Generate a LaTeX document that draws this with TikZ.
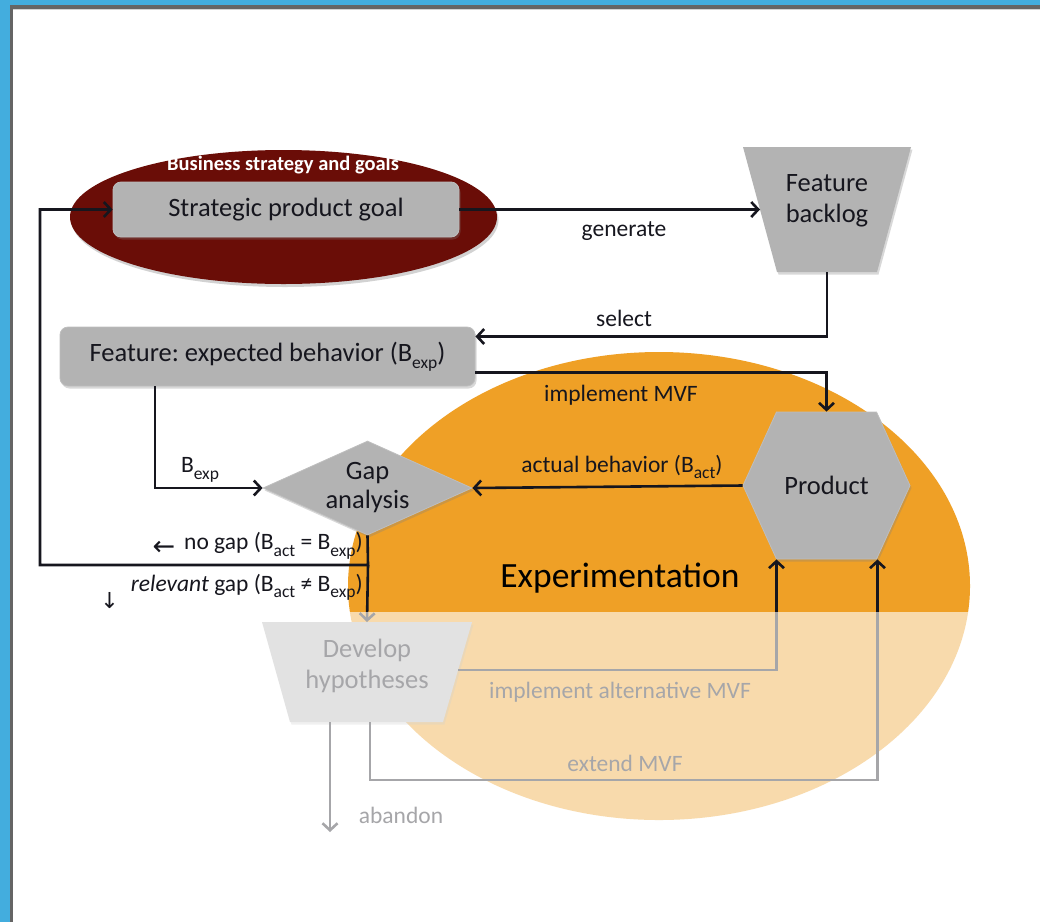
\documentclass[tikz,border=0pt]{standalone}
\usepackage{fontspec}
\setmainfont{Carlito}
\frenchspacing
\newfontfamily\arrowfont{DejaVu Sans}
\usetikzlibrary{shapes.geometric,shapes.symbols,arrows.meta,shadows}
\definecolor{frameblue}{HTML}{43ADDE}
\definecolor{framegray}{HTML}{656565}
\definecolor{boxgray}{HTML}{B3B3B3}
\definecolor{goalred}{HTML}{6A0D07}
\definecolor{exporange}{HTML}{EFA026}
\definecolor{inkblack}{HTML}{16161E}
\newcommand\boxfont{\fontsize{26.5}{31}\selectfont}
\newcommand\labelfont{\fontsize{23.5}{26}\selectfont}
\newcommand\sub[1]{\raisebox{-0.28em}{\fontsize{17.5}{18}\selectfont #1}}
\newcommand\smallarrow[2]{{\arrowfont\fontsize{#1}{#1}\selectfont #2}}

\begin{document}
\begin{tikzpicture}[x=1pt,y=-1pt,
  box/.style={fill=boxgray, draw=boxgray!85!white, line width=0.8pt, text=inkblack, font=\boxfont,
    inner sep=0pt, drop shadow={opacity=0.3, shadow xshift=1.5pt, shadow yshift=-2.5pt}},
  trapfill/.style={fill=boxgray, drop shadow={opacity=0.3, shadow xshift=1.5pt, shadow yshift=-2.5pt}},
  frame/.style={inner sep=0pt, outer sep=0pt},
  boxtext/.style={text=inkblack, font=\boxfont, align=center, inner sep=0pt},
  flow/.style={draw=inkblack, line width=2.6pt, -{Straight Barb[length=7pt,width=15pt]}},
  lbl/.style={text=inkblack, font=\labelfont, inner sep=0pt}]
\useasboundingbox (0,0) rectangle (1040,922);
\fill[white] (0,0) rectangle (1040,922);

\node[ellipse, fill=exporange, minimum width=622pt, minimum height=468pt] (exper) at (659,586) {};
\node[ellipse, fill=goalred, minimum width=427pt, minimum height=134pt,
  drop shadow={opacity=0.35, shadow xshift=1.5pt, shadow yshift=-3pt}] (business) at (283.5,217) {};
\node[text=white, font=\fontsize{20.5}{22}\selectfont\bfseries] (businesslbl) at (283,165) {Business strategy and goals};
\node[font=\fontsize{35.5}{38}\selectfont, text=black] (experlbl) at (620,578) {Experimentation};

\node[box, rounded corners=8pt, minimum width=346pt, minimum height=55pt] (goal) at (286,209.5) {Strategic product goal};

\node[frame, minimum width=168pt, minimum height=125pt] (backlog) at (827,209.5) {};
\fill[trapfill] (backlog.north west) -- (backlog.north east) -- ([xshift=-34pt]backlog.south east)
  -- ([xshift=34pt]backlog.south west) -- cycle;
\node[boxtext] (backlogtext) at ([yshift=9pt]backlog.center) {Feature\\backlog};

\node[box, rounded corners=8pt, minimum width=415pt, minimum height=59pt] (feature) at (267.5,356.5) {Feature: expected behavior (B\sub{exp})};
\node[box, signal, signal to=west and east, signal pointer angle=131, minimum width=167pt, minimum height=147pt] (product) at (826.5,485.5) {Product};
\node[box, diamond, aspect=2.2, align=center, minimum width=209pt, minimum height=94pt] (gap) at (367.5,488) {Gap\\[-2pt]analysis};

\node[frame, minimum width=210pt, minimum height=100pt] (develop) at (367,672) {};
\fill[trapfill] (develop.north west) -- (develop.north east) -- ([xshift=-29pt]develop.south east)
  -- ([xshift=28pt]develop.south west) -- cycle;
\node[boxtext] (developtext) at ([yshift=6pt]develop.center) {Develop\\hypotheses};

\coordinate (split) at (368,565);
\coordinate (loopcorner) at (40,565);
\coordinate (abandonend) at (330,832);

\draw[flow] (goal.east) -- ([xshift=17pt]backlog.west);
\draw[flow] (backlog.south) |- ([yshift=20pt]feature.east);
\draw[flow] ([yshift=-16pt]feature.east) -| (product.north);
\draw[flow] (product.west) -- (gap.east);
\draw[flow] ([xshift=-112.5pt]feature.south) |- (gap.west);
\draw[flow] (gap.south) -- (split) -- (loopcorner) |- (goal.west);
\draw[flow] (split) -- (develop.north);
\draw[flow] ([xshift=-14pt,yshift=2pt]develop.east) -| ([xshift=-50pt]product.south);
\draw[flow] ([xshift=3pt]develop.south) -- ++(0,58) -| ([xshift=51pt]product.south);
\draw[flow] ([xshift=-37pt]develop.south) -- (abandonend);

\node[lbl] (generatelbl) at (624,231) {generate};
\node[lbl] (selectlbl) at (624,318) {select};
\node[lbl] (mvflbl) at (621,395) {implement MVF};
\node[lbl] (actuallbl) at (622,467) {actual behavior (B\sub{act})};
\node[lbl] (explbl) at (200,470) {B\sub{exp}};
\node[lbl, anchor=east] (nogaplbl) at (363,546) {\raisebox{-6pt}{\smallarrow{27}{←}}\hspace{9pt}no gap (B\sub{act} = B\sub{exp})};
\node[lbl, anchor=east] (gaplbl) at (363,591) {\raisebox{-17pt}{\smallarrow{22}{↓}}\hspace{12pt}\textit{relevant} gap (B\sub{act} ≠ B\sub{exp})};
\node[lbl] (altlbl) at (620,692) {implement alternative MVF};
\node[lbl] (extendlbl) at (625,763) {extend MVF};
\node[lbl] (abandonlbl) at (401,815) {abandon};

\fill[white, opacity=0.62] (13,612) rectangle (1040,922);

\fill[frameblue] (0,0) rectangle (1040,5);
\fill[frameblue] (0,0) rectangle (10,922);
\fill[framegray] (10,5) rectangle (1040,9);
\fill[framegray] (10,5) rectangle (13,922);
\draw[gray!35, line width=1pt] (13,9.5) -- (1040,9.5);
\end{tikzpicture}
\end{document}
